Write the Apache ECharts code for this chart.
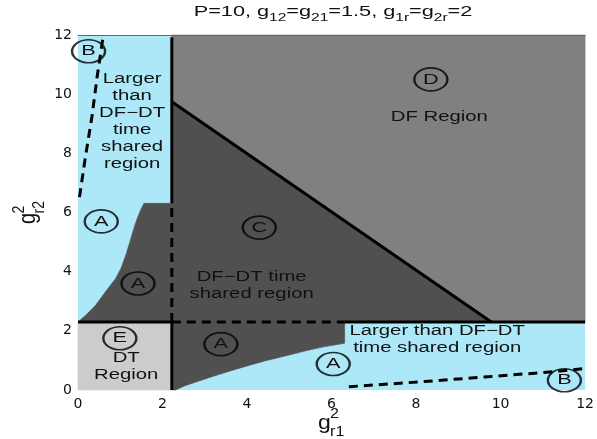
<!DOCTYPE html>
<html>
<head>
<meta charset="utf-8">
<script src="https://cdn.jsdelivr.net/npm/echarts@6/dist/echarts.min.js"></script>
<style>
  html, body { margin: 0; padding: 0; background: #fff; }
  #chart { width: 597px; height: 439px; }
</style>
</head>
<body>
<div id="chart"></div>
<script>
// ---- Operating regions in the (g_r1^2, g_r2^2) plane ----
const xTicks = [0, 2, 4, 6, 8, 10, 12];
const yTicks = [0, 2, 4, 6, 8, 10, 12];

// Region boundaries (vertices in axis units)
const dfRegion = [[2.22, 12], [12, 12], [12, 2.3], [9.78, 2.3], [2.22, 9.74]];
const dfdtTriangle = [[2.22, 9.74], [9.78, 2.3], [2.22, 2.3]];
const leftSharedPatch = [[0, 2.3], [0.2, 2.55], [0.42, 2.87], [0.65, 3.32], [0.89, 3.77],
  [1.02, 4.12], [1.14, 4.6], [1.25, 5.12], [1.33, 5.5], [1.40, 5.8], [1.48, 6.08],
  [1.56, 6.31], [2.22, 6.31], [2.22, 2.3]];
const lowerSharedPatch = [[2.22, 2.3], [6.31, 2.3], [6.31, 1.58], [5.82, 1.46], [5.44, 1.34],
  [4.88, 1.14], [4.42, 0.98], [4.02, 0.82], [3.64, 0.66], [3.24, 0.48], [2.85, 0.3],
  [2.53, 0.14], [2.31, 0], [2.22, 0]];
const dtRegion = [[0, 0], [2.22, 0], [2.22, 2.3], [0, 2.3]];

// Boundary curves
const solidLowerVertical = [[2.22, 0], [2.22, 2.3]];
const solidLeftHorizontal = [[0, 2.3], [2.22, 2.3]];
const solidUpperVertical = [[2.22, 6.31], [2.22, 11.92]];
const solidDiagonal = [[2.22, 9.74], [9.78, 2.3]];
const solidRightHorizontal = [[6.31, 2.3], [12, 2.3]];
const dashedMidVertical = [[2.22, 2.3], [2.22, 6.31]];
const dashedMidHorizontal = [[2.22, 2.3], [6.31, 2.3]];
const dashedLeftB = [[0.035, 6.52], [0.176, 7.88], [0.334, 9.28], [0.452, 10.58], [0.569, 11.70], [0.60, 12]];
const dashedLowerB = [[6.41, 0.11], [8.14, 0.28], [9.71, 0.45], [11.28, 0.62], [12, 0.73]];

// Circled region tags
const tagLetters = ['B', 'A', 'A', 'C', 'D', 'E', 'A', 'A', 'B'];
const tagX = [0.25, 0.55, 1.42, 4.29, 8.35, 0.99, 3.38, 6.04, 11.51];
const tagY = [11.45, 5.70, 3.60, 5.49, 10.5, 1.75, 1.55, 0.88, 0.33];

// Region captions
const captionTexts = [
  'Larger\nthan\nDF\u2212DT\ntime\nshared\nregion',
  'DF\u2212DT time\nshared region',
  'DF Region',
  'DT\nRegion',
  'Larger than DF\u2212DT\ntime shared region'
];
const captionX = [1.28, 4.11, 8.55, 1.14, 8.5];
const captionY = [9.08, 3.54, 9.22, 0.78, 1.70];

// ---- styling ----
const FONT = '"Liberation Sans", Arial, Helvetica, sans-serif';
const STRETCH = 1.45;
const COLORS = {
  background: '#ade8f9',
  df: '#808080',
  shared: '#505050',
  dt: '#cccccc'
};

function regionSeries(points, color) {
  return {
    type: 'custom',
    coordinateSystem: 'cartesian2d',
    silent: true,
    z: 1,
    data: points,
    encode: { x: 0, y: 1 },
    renderItem: function (params, api) {
      if (params.dataIndex !== 0) return null;
      const pts = points.map(function (p) { return api.coord(p); });
      return {
        type: 'polygon',
        shape: { points: pts, smooth: 0 },
        style: { fill: color, stroke: color, lineWidth: 0.6 }
      };
    }
  };
}

function lineSeries(points, dashed) {
  return {
    type: 'line',
    data: points,
    symbol: 'none',
    showSymbol: false,
    silent: true,
    clip: false,
    z: 3,
    lineStyle: { color: '#000', width: 3, type: dashed ? [9, 6] : 'solid', cap: 'butt' }
  };
}

// text placed at data positions, widened like the rest of the figure's lettering
function textSeries(xs, ys, texts, size, z) {
  return {
    type: 'custom',
    coordinateSystem: 'cartesian2d',
    silent: true,
    z: z,
    data: xs.map(function (x, i) { return [x, ys[i]]; }),
    encode: { x: 0, y: 1 },
    renderItem: function (params, api) {
      const p = api.coord([api.value(0), api.value(1)]);
      return {
        type: 'text',
        x: p[0],
        y: p[1],
        scaleX: STRETCH,
        style: {
          text: texts[params.dataIndex],
          fill: '#111',
          fontSize: size,
          fontFamily: FONT,
          align: 'center',
          verticalAlign: 'middle',
          lineHeight: 17
        }
      };
    }
  };
}

const tagSeries = {
  type: 'scatter',
  silent: true,
  z: 4,
  data: tagX.map(function (x, i) { return [x, tagY[i]]; }),
  symbol: 'circle',
  symbolSize: [33, 23],
  itemStyle: { color: 'rgba(0,0,0,0)', borderColor: '#000', borderWidth: 2 },
  label: { show: false },
  emphasis: { disabled: true }
};

const chart = echarts.init(document.getElementById('chart'), null, { renderer: 'canvas' });

const option = {
  animation: false,
  grid: {
    left: 78, top: 35, right: 10, bottom: 49,
    show: true, backgroundColor: COLORS.background, borderWidth: 0
  },
  xAxis: [{
    type: 'value', min: xTicks[0], max: xTicks[xTicks.length - 1], interval: xTicks[1] - xTicks[0],
    axisLine: { show: false }, axisTick: { show: false }, splitLine: { show: false },
    axisLabel: { fontSize: 14, fontFamily: '"DejaVu Sans", sans-serif', color: '#111', margin: 7 }
  }, {
    type: 'value', position: 'top', min: xTicks[0], max: xTicks[xTicks.length - 1], z: 10,
    axisLine: { show: true, lineStyle: { color: '#666', width: 1 } },
    axisTick: { show: false }, axisLabel: { show: false }, splitLine: { show: false }
  }],
  yAxis: {
    type: 'value', min: yTicks[0], max: yTicks[yTicks.length - 1], interval: yTicks[1] - yTicks[0],
    axisLine: { show: false }, axisTick: { show: false }, splitLine: { show: false },
    axisLabel: { fontSize: 14, fontFamily: '"DejaVu Sans", sans-serif', color: '#111', margin: 6 }
  },
  series: [
    regionSeries(dfRegion, COLORS.df),
    regionSeries(dfdtTriangle, COLORS.shared),
    regionSeries(leftSharedPatch, COLORS.shared),
    regionSeries(lowerSharedPatch, COLORS.shared),
    regionSeries(dtRegion, COLORS.dt),
    lineSeries(solidLowerVertical, false),
    lineSeries(solidLeftHorizontal, false),
    lineSeries(solidUpperVertical, false),
    lineSeries(solidDiagonal, false),
    lineSeries(solidRightHorizontal, false),
    lineSeries(dashedMidVertical, true),
    lineSeries(dashedMidHorizontal, true),
    lineSeries(dashedLeftB, true),
    lineSeries(dashedLowerB, true),
    tagSeries,
    textSeries(tagX, tagY, tagLetters, 15, 5),
    textSeries(captionX, captionY, captionTexts, 14, 5)
  ],
  graphic: [
    // title with subscripts
    {
      type: 'text', x: 333, y: 13, scaleX: 1.55, z: 10,
      style: {
        text: '{m|P=10, g}{s|12}{m|=g}{s|21}{m|=1.5, g}{s|1r}{m|=g}{s|2r}{m|=2}',
        align: 'center', verticalAlign: 'middle',
        rich: {
          m: { fontSize: 14, fontFamily: FONT, fill: '#111', color: '#111', verticalAlign: 'top', lineHeight: 16 },
          s: { fontSize: 10, fontFamily: FONT, fill: '#111', color: '#111', verticalAlign: 'top', lineHeight: 12, padding: [8, 0, 0, 0] }
        }
      }
    },
    // x-axis name: g_{r1}^2
    {
      type: 'group', x: 318, y: 423, scaleX: 1.15, z: 10,
      children: [
        { type: 'text', x: 0, y: 0, style: { text: 'g', fontSize: 20, fontFamily: FONT, fill: '#111', align: 'left', verticalAlign: 'middle' } },
        { type: 'text', x: 10.5, y: -8.5, style: { text: '2', fontSize: 14, fontFamily: FONT, fill: '#111', align: 'left', verticalAlign: 'middle' } },
        { type: 'text', x: 10.5, y: 9.5, style: { text: 'r1', fontSize: 14, fontFamily: FONT, fill: '#111', align: 'left', verticalAlign: 'middle' } }
      ]
    },
    // y-axis name: g_{r2}^2 (rotated)
    {
      type: 'group', x: 29, y: 224, rotation: Math.PI / 2, scaleY: 1.15, z: 10,
      children: [
        { type: 'text', x: 0, y: 0, style: { text: 'g', fontSize: 20, fontFamily: FONT, fill: '#111', align: 'left', verticalAlign: 'middle' } },
        { type: 'text', x: 10.5, y: -8.5, style: { text: '2', fontSize: 14, fontFamily: FONT, fill: '#111', align: 'left', verticalAlign: 'middle' } },
        { type: 'text', x: 10.5, y: 9.5, style: { text: 'r2', fontSize: 14, fontFamily: FONT, fill: '#111', align: 'left', verticalAlign: 'middle' } }
      ]
    }
  ]
};

chart.setOption(option);
</script>
</body>
</html>
